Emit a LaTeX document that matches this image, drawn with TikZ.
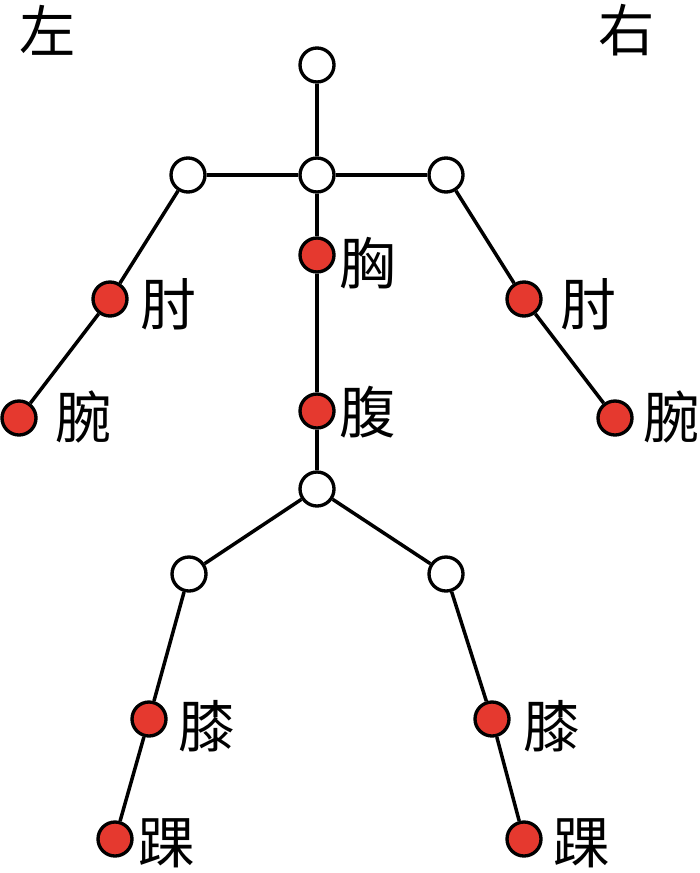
\documentclass[tikz,border=0pt]{standalone}
\usepackage{fontspec}
\newfontfamily\cjk{Noto Sans CJK SC}
\definecolor{jointred}{RGB}{229,57,47}

\begin{document}
\begin{tikzpicture}[x=0.2mm, y=-0.2mm]
    \tikzset{
        joint/.style={circle, draw=black, line width=1.9pt, fill=white, minimum size=6.8mm, inner sep=0pt},
        keyjoint/.style={joint, fill=jointred},
        bone/.style={line width=2pt},
        word/.style={font=\cjk\fontsize{32}{32}\selectfont, inner sep=0pt}
    }
    \useasboundingbox (0,0) rectangle (700,873);

    % Side marks
    \node[word] (left)  at (48,30)  {左};
    \node[word] (right) at (627,30) {右};

    % Trunk
    \node[joint] (head)   at (317,65)  {};
    \node[joint] (neck)   at (317,175) {};
    \node[keyjoint] (chest) at (317,255) {};
    \node[keyjoint] (belly) at (317,411) {};
    \node[joint] (pelvis) at (317,489) {};

    % Arms
    \node[joint] (lshoulder) at (188,175) {};
    \node[joint] (rshoulder) at (446,175) {};
    \node[keyjoint] (lelbow) at (110,299) {};
    \node[keyjoint] (relbow) at (524,299) {};
    \node[keyjoint] (lwrist) at (19,418) {};
    \node[keyjoint] (rwrist) at (615,418) {};

    % Legs
    \node[joint] (lhip) at (189,574) {};
    \node[joint] (rhip) at (446,574) {};
    \node[keyjoint] (lknee) at (149,719) {};
    \node[keyjoint] (rknee) at (492,719) {};
    \node[keyjoint] (lankle) at (115,839) {};
    \node[keyjoint] (rankle) at (524,839) {};

    % Bones
    \draw[bone] (head) -- (neck);
    \draw[bone] (lshoulder) -- (neck);
    \draw[bone] (neck) -- (rshoulder);
    \draw[bone] (neck) -- (chest);
    \draw[bone] (chest) -- (belly);
    \draw[bone] (belly) -- (pelvis);
    \draw[bone] (lshoulder) -- (lelbow);
    \draw[bone] (lelbow) -- (lwrist);
    \draw[bone] (rshoulder) -- (relbow);
    \draw[bone] (relbow) -- (rwrist);
    \draw[bone] (pelvis) -- (lhip);
    \draw[bone] (pelvis) -- (rhip);
    \draw[bone] (lhip) -- (lknee);
    \draw[bone] (lknee) -- (lankle);
    \draw[bone] (rhip) -- (rknee);
    \draw[bone] (rknee) -- (rankle);

    % Labels
    \node[word] (chest-t)  at (368,263) {胸};
    \node[word] (belly-t)  at (368,412) {腹};
    \node[word] (lelbow-t) at (169,304) {肘};
    \node[word] (relbow-t) at (589,304) {肘};
    \node[word] (lwrist-t) at (84,417)  {腕};
    \node[word] (rwrist-t) at (672,417) {腕};
    \node[word] (lknee-t)  at (207,726) {膝};
    \node[word] (rknee-t)  at (552,726) {膝};
    \node[word] (lankle-t) at (167,843) {踝};
    \node[word] (rankle-t) at (582,843) {踝};
\end{tikzpicture}
\end{document}
